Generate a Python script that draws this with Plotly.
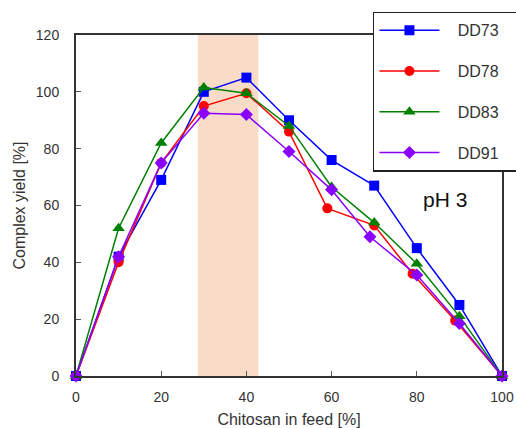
import plotly.graph_objects as go

# Data
x73 = [0, 10, 20, 30, 40, 50, 60, 70, 80, 90, 100]
y73 = [0, 42, 69, 100, 105, 90, 76, 67, 45, 25, 0]

x78 = [0, 10, 20, 30, 40, 50, 59, 70, 79, 89, 100]
y78 = [0, 40, 75, 95, 99.5, 86, 59, 53, 36, 19.5, 0]

x83 = [0, 10, 20, 30, 40, 50, 60, 70, 80, 90, 100]
y83 = [0, 52, 82, 101.5, 99.5, 88, 66.5, 54, 39.5, 21, 0]

x91 = [0, 10, 20, 30, 40, 50, 60, 69, 80, 90, 100]
y91 = [0, 42, 75, 92.5, 92, 79, 65.5, 49, 35.5, 18.5, 0]

band = [28.6, 42.8]
series_names = ["DD73", "DD78", "DD83", "DD91"]
x_ticks = [0, 20, 40, 60, 80, 100]
y_ticks = [0, 20, 40, 60, 80, 100, 120]

styles = [
    ("#0000ff", "square", 10),
    ("#ff0000", "circle", 10),
    ("#008000", "triangle-up", 11),
    ("#8a00ff", "diamond", 10),
]

pad_l = "&nbsp;&nbsp;&nbsp;"
pad_r = "&nbsp;" * 3

fig = go.Figure()
for i, (xs, ys) in enumerate([(x73, y73), (x78, y78), (x83, y83), (x91, y91)]):
    color, sym, sz = styles[i]
    fig.add_trace(go.Scatter(
        x=xs, y=ys, mode="lines+markers", name=pad_l + series_names[i] + pad_r,
        legendgroup=series_names[i],
        line=dict(color=color, width=1.5),
        marker=dict(symbol=sym, size=sz, color=color),
        cliponaxis=False,
    ))

fig.add_shape(type="rect", xref="x", yref="paper", x0=band[0], x1=band[1], y0=0, y1=1,
              fillcolor="#f8dcc8", line=dict(width=0), layer="below")

fig.add_annotation(x=86.6, y=62, xref="x", yref="y", text="pH 3", showarrow=False,
                   font=dict(size=21, color="#111111", family="Liberation Sans, Arial"))

axis_common = dict(
    showline=True, linecolor="#333333", linewidth=2, mirror=True,
    ticks="inside", ticklen=5, tickcolor="#555555", showgrid=False, zeroline=False,
    tickfont=dict(size=14, color="#333333"), automargin=False,
)

fig.update_layout(
    width=516, height=428,
    margin=dict(l=76, r=14, t=35, b=52, autoexpand=False),
    paper_bgcolor="white", plot_bgcolor="white",
    font=dict(family="Liberation Sans, Arial", color="#333333"),
    xaxis=dict(range=[0, 100], tickvals=x_ticks, ticklabelstandoff=7,
               title=dict(text="Chitosan in feed [%]", font=dict(size=16), standoff=10),
               **axis_common),
    yaxis=dict(range=[0, 120], tickvals=y_ticks, ticklabelstandoff=12,
               title=dict(text="Complex yield [%]", font=dict(size=16), standoff=6),
               **axis_common),
    legend=dict(
        x=0.697, y=1.068, xanchor="left", yanchor="top",
        bgcolor="white", bordercolor="#222222", borderwidth=1.5,
        font=dict(size=16, color="#333333"),
        tracegroupgap=17, itemwidth=60,
    ),
    showlegend=True,
)

fig.write_html("out.html", config={"displayModeBar": False},
               post_script="document.body.style.margin='0';")
